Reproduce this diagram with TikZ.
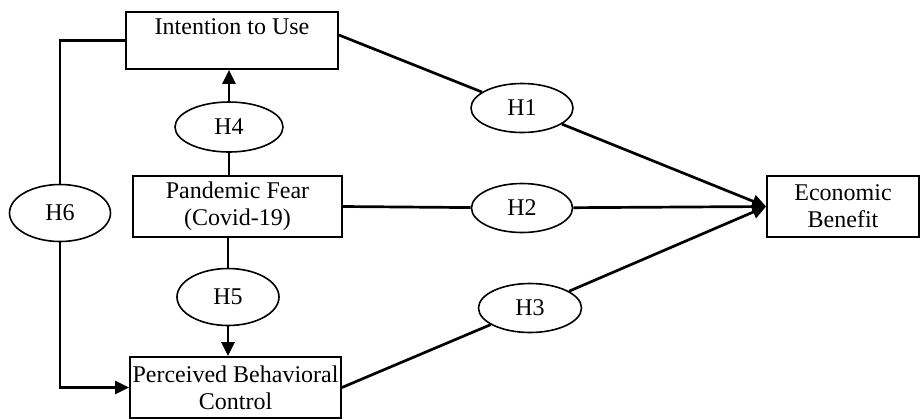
\documentclass[tikz,border=0pt]{standalone}
\usepackage{fontspec}
\setmainfont{Liberation Serif}
\usepackage{xcolor}
\usepackage{tikz}
\usetikzlibrary{arrows.meta,positioning,shapes.geometric,calc}
\definecolor{ink}{HTML}{000000}
\tikzset{
  constructbox/.style={
    rectangle, draw=ink, fill=white, line width=0.9pt,
    minimum width=#1, minimum height=30.5pt,
    font=\fontsize{12}{13.5}\selectfont, align=center,
    inner sep=1pt
  },
  constructbox/.default=105pt,
  hypnode/.style={
    ellipse, draw=ink, fill=white, line width=0.8pt,
    minimum width=51pt, minimum height=24.5pt,
    font=\fontsize{12}{13.5}\selectfont, inner sep=0pt
  },
  pathline/.style={line width=1.35pt, draw=ink},
  patharrow/.style={
    pathline, -{Triangle[length=7pt,width=6.5pt]}
  },
}

\begin{document}
\begin{tikzpicture}[x=0.5pt, y=-0.5pt]
  \useasboundingbox (0,0) rectangle (920,419);
  % constructs
  \node[constructbox=106pt, minimum height=28.5pt] (itu) at (232,40.5) {Intention to Use\\ \mbox{}};
  \node[constructbox=104.5pt] (pf) at (237.5,206.5) {Pandemic Fear\\(Covid-19)};
  \node[constructbox=105.5pt] (pbc) at (235.5,387.5) {Perceived Behavioral\\Control};
  \node[constructbox=76pt] (eb) at (843,206.5) {Economic\\Benefit};
  % hypotheses
  \node[hypnode] (h1) at (522,108) {H1};
  \node[hypnode, minimum width=50.5pt] (h2) at (522,208) {H2};
  \node[hypnode, minimum width=51.5pt] (h3) at (530,308) {H3};
  \node[hypnode, minimum width=54pt, minimum height=25pt] (h4) at (229,127) {H4};
  \node[hypnode, minimum height=28.5pt] (h5) at (228,297) {H5};
  \node[hypnode, minimum width=50.5pt, minimum height=28.5pt] (h6) at (60,213) {H6};
  % paths
  \draw[pathline] ([yshift=2.75pt]itu.east) -- (h1);
  \draw[pathline] (pf.east) -- (h2);
  \draw[pathline] (pbc.east) -- (h3);
  \foreach \h in {h1,h2,h3} { \draw[patharrow] (\h) -- (eb.west); }
  \draw[pathline] (pf.north -| h4) -- (h4);
  \draw[patharrow] (h4) -- (itu.south -| h4);
  \draw[pathline] (pf.south -| h5) -- (h5);
  \draw[patharrow] (h5) -- (pbc.north -| h5);
  \draw[pathline] (itu.west) -| (h6);
  \draw[patharrow] (h6) |- (pbc.west);
\end{tikzpicture}
\end{document}
